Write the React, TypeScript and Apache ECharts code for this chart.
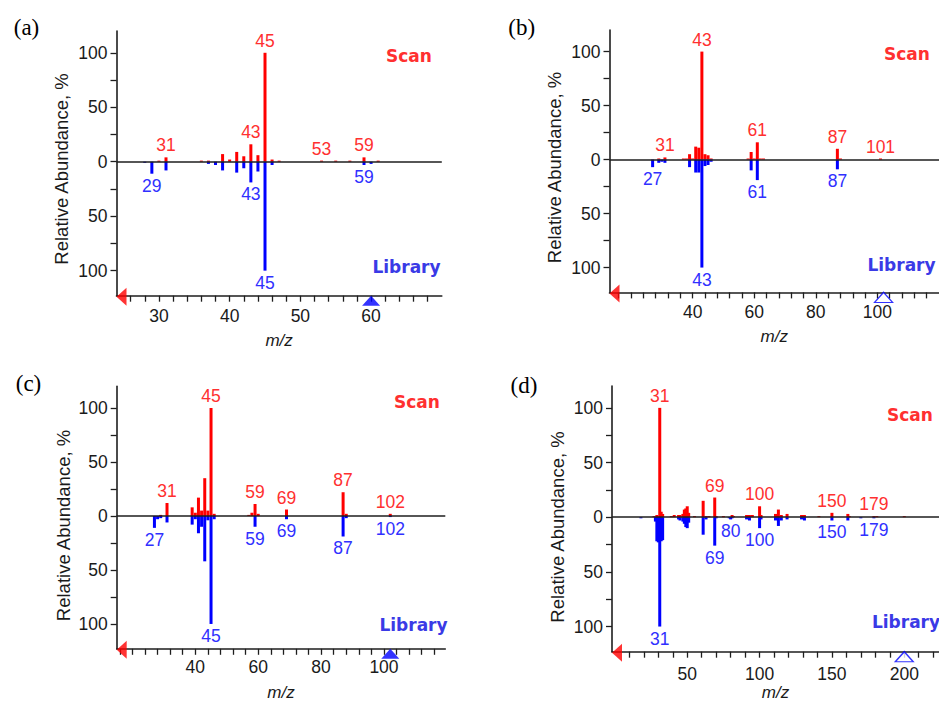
import { useEffect, useRef } from 'react';
import * as echarts from 'echarts';

// ---------- Panel (a) ----------
const scanMzA = [30, 31, 36, 37, 39, 40, 41, 42, 43, 44, 45, 46, 47, 53, 55, 57, 59, 61];
const scanIntA = [1, 4, 1, 1, 7, 2, 9, 5, 16, 6, 100, 2, 1, 1, 1, 1, 4, 1];
const libMzA = [28, 29, 31, 37, 38, 39, 41, 42, 43, 44, 45, 46, 59, 60];
const libIntA = [1, 11, 8, 2, 3, 8, 10, 6, 19, 9, 100, 3, 3, 2];
const scanLabelsA = [31, 43, 45, 53, 59];
const libLabelsA = [29, 43, 45, 59];
const xRangeA = [24, 70];
const xTickStepA = [26, 68, 2];
const xLabelsA = [30, 40, 50, 60];
const markerA = 60;

// ---------- Panel (b) ----------
const scanMzB = [29, 31, 37, 38, 39, 40, 41, 42, 43, 44, 45, 46, 58, 59, 60, 61, 62, 63, 87, 88, 101];
const scanIntB = [1, 2, 1, 1, 5, 1, 12, 11, 100, 5, 4, 1, 1, 7, 1, 16, 1, 1, 10, 1, 1];
const libMzB = [27, 29, 30, 31, 39, 41, 42, 43, 44, 45, 46, 59, 61, 87];
const libIntB = [7, 3, 2, 3, 7, 12, 12, 100, 6, 5, 2, 10, 19, 9];
const scanLabelsB = [31, 43, 61, 87, 101];
const libLabelsB = [27, 43, 61, 87];
const xRangeB = [13, 120];
const xTickStepB = [16, 116, 4];
const xLabelsB = [40, 60, 80, 100];
const markerB = 102;

// ---------- Panel (c) ----------
const scanMzC = [29, 31, 39, 40, 41, 42, 43, 44, 45, 46, 57, 58, 59, 60, 69, 87, 88, 102];
const scanIntC = [1, 12, 8, 3, 17, 5, 35, 5, 100, 2, 1, 3, 11, 2, 6, 22, 2, 2];
const libMzC = [27, 28, 29, 31, 39, 40, 41, 42, 43, 44, 45, 46, 59, 69, 87, 88, 102];
const libIntC = [11, 3, 2, 6, 8, 3, 16, 10, 42, 4, 100, 3, 10, 3, 19, 2, 1];
const scanLabelsC = [31, 45, 59, 69, 87, 102];
const libLabelsC = [27, 45, 59, 69, 87, 102];
const xRangeC = [15, 119.5];
const xTickStepC = [16, 116, 4];
const xLabelsC = [40, 60, 80, 100];
const markerC = 102;

// ---------- Panel (d) ----------
const scanMzD = [27, 29, 31, 32, 33, 39, 41, 44, 45, 47, 48, 49, 50, 51, 55, 61, 63, 65, 69, 70, 75, 81, 82, 91, 93, 95, 100, 101, 111, 113, 115, 119, 129, 131, 141, 150, 161, 162, 179, 181, 200];
const scanIntD = [1, 2, 100, 5, 3, 1, 2, 2, 2, 3, 7, 8, 10, 4, 1, 15, 1, 1, 18, 1, 1, 2, 1, 2, 2, 2, 10, 2, 3, 7, 2, 3, 2, 2, 1, 4, 3, 1, 1, 1, 1];
const libMzD = [18, 28, 29, 30, 31, 32, 33, 44, 45, 47, 48, 49, 50, 51, 61, 63, 69, 70, 79, 80, 81, 91, 93, 100, 101, 111, 113, 115, 119, 129, 131, 150, 161, 170, 179];
const libIntD = [1, 4, 22, 23, 100, 22, 21, 2, 3, 4, 6, 9, 10, 5, 16, 2, 26, 1, 1, 2, 1, 2, 3, 10, 2, 3, 8, 3, 2, 2, 3, 3, 3, 1, 1];
const scanLabelsD = [31, 69, 100, 150, 179];
const libLabelsD = [31, 69, 80, 100, 150, 179];
const xRangeD = [-2, 224];
const xTickStepD = [10, 220, 10];
const xLabelsD = [50, 100, 150, 200];
const markerD = 200;

// ---------- shared y axis ----------
const Y_MIN = -123;
const Y_MAX = 120;
const yTickValues = [-100, -75, -50, -25, 0, 25, 50, 75, 100];
const yLabelValues = [-100, -50, 0, 50, 100];

const FONT = "'Liberation Sans', Arial, sans-serif";
const RED = '#ff0000';
const BLUE = '#0000ff';
const RED_TEXT = '#ff3030';
const BLUE_TEXT = '#3030ff';
const AXIS = '#1e1e1e';
const TICK_TEXT = '#1a1a1a';

const steps = (s: number[]) => {
  const out: number[] = [];
  for (let v = s[0]; v <= s[1] + 1e-9; v += s[2]) out.push(v);
  return out;
};

const panels = [
  { tag: '(a)', scanMz: scanMzA, scanInt: scanIntA, scanLabels: scanLabelsA, libMz: libMzA, libInt: libIntA, libLabels: libLabelsA, xRange: xRangeA, xTicks: steps(xTickStepA), xLabels: xLabelsA, marker: markerA, filled: true },
  { tag: '(b)', scanMz: scanMzB, scanInt: scanIntB, scanLabels: scanLabelsB, libMz: libMzB, libInt: libIntB, libLabels: libLabelsB, xRange: xRangeB, xTicks: steps(xTickStepB), xLabels: xLabelsB, marker: markerB, filled: false },
  { tag: '(c)', scanMz: scanMzC, scanInt: scanIntC, scanLabels: scanLabelsC, libMz: libMzC, libInt: libIntC, libLabels: libLabelsC, xRange: xRangeC, xTicks: steps(xTickStepC), xLabels: xLabelsC, marker: markerC, filled: true },
  { tag: '(d)', scanMz: scanMzD, scanInt: scanIntD, scanLabels: scanLabelsD, libMz: libMzD, libInt: libIntD, libLabels: libLabelsD, xRange: xRangeD, xTicks: steps(xTickStepD), xLabels: xLabelsD, marker: markerD, filled: false },
];

const layouts = [
  { grid: { left: 116.5, top: 31, width: 325.3, height: 264.7 }, labelMargin: 11.5, nameGap: 36, tag: [26.5, 27.5], scan: [409, 56], lib: [406.5, 267], title: [61, 169] },
  { grid: { left: 609.5, top: 30, width: 329.5, height: 262.4 }, labelMargin: 11, nameGap: 36, tag: [521.7, 27.5], scan: [907, 54], lib: [901.5, 265], title: [554.5, 167.5] },
  { grid: { left: 116.7, top: 386.4, width: 328.6, height: 262.4 }, labelMargin: 9.5, nameGap: 35, tag: [28.5, 383], scan: [417, 402], lib: [413.5, 625], title: [63, 525.5] },
  { grid: { left: 612, top: 386, width: 327, height: 265.7 }, labelMargin: 13, nameGap: 30, tag: [524, 385], scan: [910, 415], lib: [906, 622], title: [557.5, 527] },
];

function buildOption() {
  const grid = layouts.map((l) => ({ ...l.grid }));
  const xAxis = panels.map((p, i) => ({
    type: 'value',
    gridIndex: i,
    min: p.xRange[0],
    max: p.xRange[1],
    position: 'bottom',
    axisLine: { show: true, onZero: false, lineStyle: { color: AXIS, width: 1.6 } },
    axisTick: { show: true, customValues: p.xTicks, length: 6, lineStyle: { color: AXIS, width: 1.3 } },
    axisLabel: { show: true, customValues: p.xLabels, margin: layouts[i].labelMargin, color: TICK_TEXT, fontSize: 17.5, fontFamily: FONT },
    splitLine: { show: false },
    name: 'm/z',
    nameLocation: 'middle',
    nameGap: layouts[i].nameGap,
    nameTextStyle: { fontStyle: 'italic', fontSize: 17, fontFamily: FONT, color: TICK_TEXT },
  }));
  const yAxis = panels.map((_p, i) => ({
    type: 'value',
    gridIndex: i,
    min: Y_MIN,
    max: Y_MAX,
    position: 'left',
    axisLine: { show: true, onZero: false, lineStyle: { color: AXIS, width: 1.6 } },
    axisTick: { show: true, customValues: yTickValues, length: 6, lineStyle: { color: AXIS, width: 1.3 } },
    axisLabel: {
      show: true,
      customValues: yLabelValues,
      margin: 9,
      color: TICK_TEXT,
      fontSize: 17.5,
      fontFamily: FONT,
      formatter: (v: number) => String(Math.abs(v)),
    },
    splitLine: { show: false },
  }));

  const series: any[] = [];
  panels.forEach((p, i) => {
    series.push({
      type: 'bar',
      name: 'Scan',
      xAxisIndex: i,
      yAxisIndex: i,
      barWidth: 3,
      barGap: '-100%',
      itemStyle: { color: RED },
      label: {
        show: false,
        position: 'top',
        distance: 3,
        color: RED_TEXT,
        fontSize: 17.5,
        fontFamily: FONT,
        formatter: (pr: any) => String(pr.value[0]),
      },
      data: p.scanMz.map((mz, k) => ({ value: [mz, p.scanInt[k]], label: { show: p.scanLabels.includes(mz) } })),
      markLine: {
        silent: true,
        symbol: ['none', 'none'],
        label: { show: false },
        lineStyle: { color: AXIS, width: 1.6, type: 'solid' },
        data: [{ yAxis: 0 }],
      },
    });
    series.push({
      type: 'bar',
      name: 'Library',
      xAxisIndex: i,
      yAxisIndex: i,
      barWidth: 3,
      barGap: '-100%',
      itemStyle: { color: BLUE },
      label: {
        show: false,
        position: 'bottom',
        distance: 3,
        color: BLUE_TEXT,
        fontSize: 17.5,
        fontFamily: FONT,
        formatter: (pr: any) => String(pr.value[0]),
      },
      data: p.libMz.map((mz, k) => ({ value: [mz, -p.libInt[k]], label: { show: p.libLabels.includes(mz) } })),
    });
    series.push({
      type: 'scatter',
      xAxisIndex: i,
      yAxisIndex: i,
      clip: false,
      silent: true,
      z: 5,
      symbol: 'triangle',
      symbolSize: [18, 10],
      symbolOffset: [0, 5],
      itemStyle: { color: p.filled ? BLUE : '#ffffff', borderColor: BLUE, borderWidth: p.filled ? 0 : 1.3 },
      data: [[p.marker, Y_MIN]],
    });
    series.push({
      type: 'scatter',
      xAxisIndex: i,
      yAxisIndex: i,
      clip: false,
      silent: true,
      z: 5,
      symbol: 'triangle',
      symbolRotate: 90,
      symbolSize: [18, 10],
      symbolOffset: [5, 1],
      itemStyle: { color: RED },
      data: [[p.xRange[0], Y_MIN]],
    });
  });

  const graphic: any[] = [];
  panels.forEach((p, i) => {
    const l = layouts[i];
    graphic.push({
      type: 'text', x: l.tag[0], y: l.tag[1], silent: true,
      style: { text: p.tag, font: "23px 'Liberation Serif', serif", fill: '#000', align: 'center', verticalAlign: 'middle' },
    });
    graphic.push({
      type: 'text', x: l.scan[0], y: l.scan[1], silent: true,
      style: { text: 'Scan', font: "bold 17px 'DejaVu Sans', sans-serif", fill: '#ff3030', align: 'center', verticalAlign: 'middle' },
    });
    graphic.push({
      type: 'text', x: l.lib[0], y: l.lib[1], silent: true,
      style: { text: 'Library', font: "bold 17px 'DejaVu Sans', sans-serif", fill: '#3a3ae6', align: 'center', verticalAlign: 'middle' },
    });
    graphic.push({
      type: 'text', x: l.title[0], y: l.title[1], rotation: Math.PI / 2, silent: true,
      style: { text: 'Relative Abundance, %', font: `18.5px ${FONT}`, fill: TICK_TEXT, align: 'center', verticalAlign: 'middle' },
    });
  });

  return {
    animation: false,
    backgroundColor: '#ffffff',
    grid,
    xAxis,
    yAxis,
    series,
    graphic,
  };
}

export default function App() {
  const ref = useRef<HTMLDivElement>(null);
  useEffect(() => {
    if (!ref.current) return;
    const chart = echarts.init(ref.current, null, { renderer: 'svg' });
    chart.setOption(buildOption() as any);
    return () => chart.dispose();
  }, []);
  return (
    <div
      ref={ref}
      style={{ position: 'fixed', left: 0, top: 0, width: 939, height: 702, background: '#fff' }}
    />
  );
}
